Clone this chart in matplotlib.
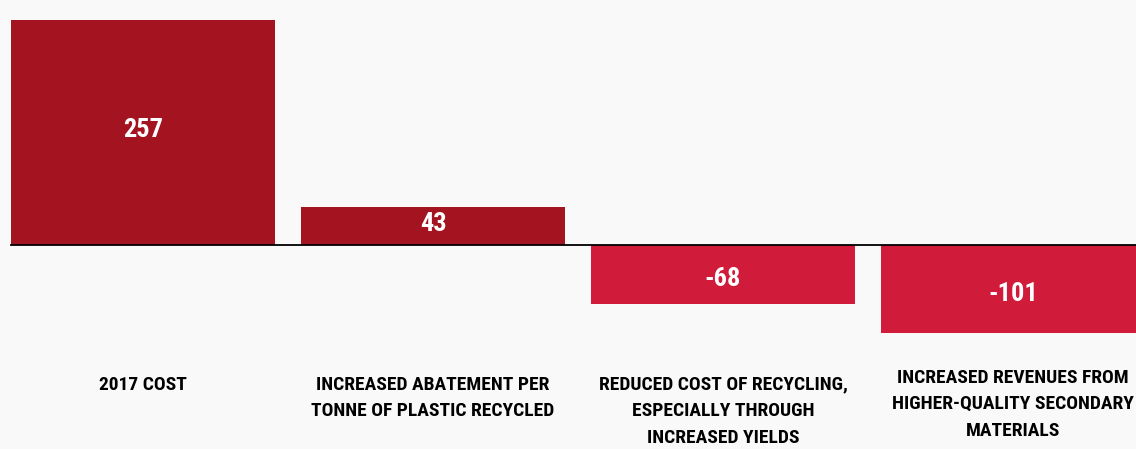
import matplotlib
matplotlib.use('Agg')
import matplotlib.pyplot as plt
import numpy as np

categories = [
    "2017 COST",
    "INCREASED ABATEMENT PER\nTONNE OF PLASTIC RECYCLED",
    "REDUCED COST OF RECYCLING,\nESPECIALLY THROUGH\nINCREASED YIELDS",
    "INCREASED REVENUES FROM\nHIGHER-QUALITY SECONDARY\nMATERIALS",
]
values = [257, 43, -68, -101]
colors = ["#A31420", "#A31420", "#D11B3A", "#D11B3A"]

FONT = ['Roboto Condensed', 'DejaVu Sans']
BG = "#f9f9f9"

fig = plt.figure(figsize=(11.36, 4.49), dpi=100, facecolor=BG)
ax = fig.add_axes([0, 0, 1, 1], facecolor=BG)

x = np.arange(len(values))
ax.bar(x, values, width=0.91, color=colors, zorder=2)

# pixel-based limits so layout matches the reference
px_per_unit = 0.875
ax.set_xlim(-143 / 290, (1136 - 143) / 290)
ax.set_ylim(-(449 - 244.5) / px_per_unit, 244.5 / px_per_unit)

ax.axhline(0, xmin=11 / 1136, xmax=1, color="black", lw=1.3, zorder=3)

for xi, v in zip(x, values):
    ax.text(xi, v / 2 + (-6 if v < 0 else 2), str(v), ha="center", va="center",
            color="white", fontsize=19, fontweight="bold", family=FONT, zorder=4)

label_y = [-150, -150, -150, -142]
for xi, lab, ly in zip(x, categories, label_y):
    ax.text(xi, ly, lab, ha="center", va="top", color="black",
            fontsize=14, fontweight="bold", family=FONT, linespacing=1.6)

ax.axis("off")
fig.savefig("out.png", dpi=100, facecolor=BG)
